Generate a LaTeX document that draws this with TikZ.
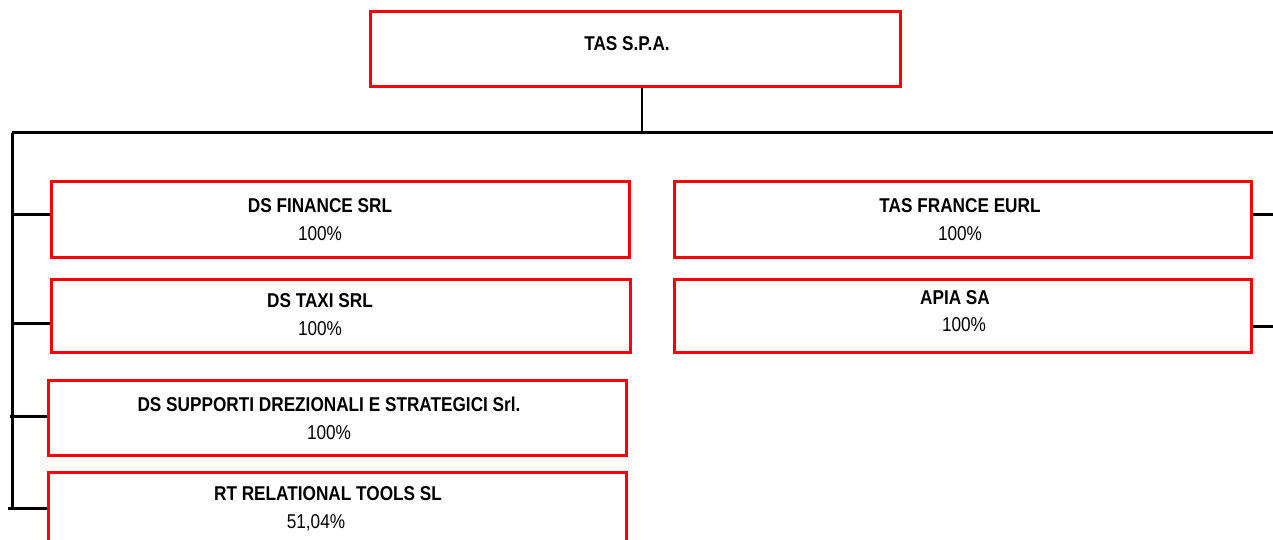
\documentclass[tikz,border=0pt]{standalone}
\usepackage{fontspec}
\setmainfont{Liberation Sans}[FakeStretch=0.86]
\begin{document}
\begin{tikzpicture}[x=1pt,y=-1pt,
  cbox/.style={draw=red,line width=3pt,minimum width=#1},
  cbox/.default=578,
  wire/.style={line width=3pt,black},
  txt/.style={align=center,font=\fontsize{20}{28}\selectfont,inner sep=0pt}]
\useasboundingbox (0,0) rectangle (1273,540);
\clip (0,0) rectangle (1273,540);
% top box
\node[cbox=530,minimum height=75] (tas) at (635,49.5) {};
\node[txt] (tast) at (627,44) {\textbf{TAS S.P.A.}};
% left column
\node[cbox,minimum height=75] (dsf) at (340,219.5) {};
\node[txt] at (320,220) {\textbf{DS FINANCE SRL}\\100\%};
\node[cbox=579,minimum height=73] (dst) at (340.5,315.5) {};
\node[txt] at (320,315) {\textbf{DS TAXI SRL}\\100\%};
\node[cbox,minimum height=75] (dss) at (337.5,417.5) {};
\node[txt] at (329,418) {\textbf{DS SUPPORTI DREZIONALI E STRATEGICI Srl.}\\100\%};
\node[cbox,minimum height=80] (rt) at (337.5,512) {};
\node[txt,anchor=base] at (328,500) {\textbf{RT RELATIONAL TOOLS SL}};
\node[txt,anchor=base] at (316,528) {51,04\%};
% right column
\node[cbox=577,minimum height=75] (tfr) at (962.5,219.5) {};
\node[txt] at (960,220) {\textbf{TAS FRANCE EURL}\\100\%};
\node[cbox=577,minimum height=73] (apia) at (962.5,315.5) {};
\node[txt,anchor=base] at (955,304) {\textbf{APIA SA}};
\node[txt,anchor=base] at (964,331) {100\%};
% connectors
\coordinate (bus) at (642,133);
\coordinate (busL) at (12,133);
\coordinate (busR) at (1273,133);
\coordinate (lb) at (12,510);
\draw[line width=2.5pt] (tas.south -| bus) -- (bus);
\draw[wire] (busL) -- (busR);
\draw[wire] (busL) -- (lb);
\draw[wire] (dsf.west |- 0,214) -- (12,214);
\draw[wire] (dst.west |- 0,323) -- (12,323);
\draw[wire] (dss.west |- 0,416) -- (10,416);
\draw[wire] (rt.west |- 0,508) -- (8,508);
\draw[wire] (tfr.east |- 0,214) -- (1273,214);
\draw[wire] (apia.east |- 0,326) -- (1273,326);
\end{tikzpicture}
\end{document}
